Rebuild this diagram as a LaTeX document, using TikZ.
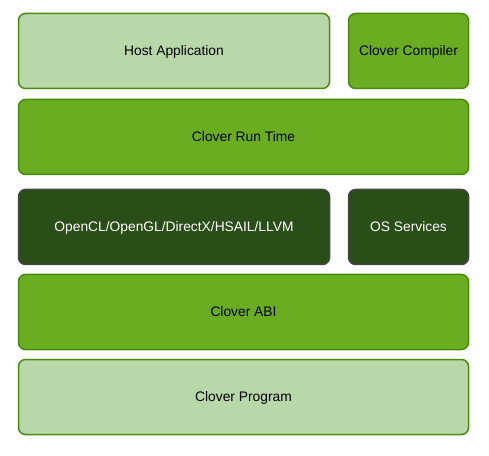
\documentclass[tikz,border=0pt]{standalone}
\usepackage{fontspec}
\setmainfont{Liberation Sans}
\definecolor{lightfill}{HTML}{B8D8AA}
\definecolor{midfill}{HTML}{6AAD21}
\definecolor{darkfill}{HTML}{2A4E17}
\definecolor{greenborder}{HTML}{4A8A0C}
\definecolor{grayborder}{HTML}{454545}
\tikzset{
  layer/.style={rounded corners=7pt, line width=1.5pt, inner sep=0pt,
    font=\fontsize{13.8}{16}\selectfont, text height=9.9pt, text depth=0pt, anchor=center},
  lightbox/.style={layer, draw=greenborder, fill=lightfill, text=black},
  midbox/.style={layer, draw=greenborder, fill=midfill, text=black},
  darkbox/.style={layer, draw=grayborder, fill=darkfill, text=white},
}
\begin{document}
\begin{tikzpicture}[x=1pt,y=1pt]
\useasboundingbox (0,0) rectangle (489,455);
\node[lightbox, minimum width=311pt, minimum height=75pt] (host) at ({(18.75+329.25)/2},{455-51}) {Host Application};
\node[midbox, minimum width=120pt, minimum height=75pt] (compiler) at ({(348.75+468.25)/2},{455-51}) {Clover Compiler};
\node[midbox, minimum width=450pt, minimum height=75pt] (runtime) at ({(18.75+468.25)/2},{455-137}) {Clover Run Time};
\node[darkbox, minimum width=311pt, minimum height=75pt] (opencl) at ({(18.75+329.25)/2},{455-227}) {OpenCL/OpenGL/DirectX/HSAIL/LLVM};
\node[darkbox, minimum width=120pt, minimum height=75pt] (os) at ({(348.75+468.25)/2},{455-227}) {OS Services};
\node[midbox, minimum width=450pt, minimum height=75pt] (abi) at ({(18.75+468.25)/2},{455-312}) {Clover ABI};
\node[lightbox, minimum width=450pt, minimum height=75pt] (program) at ({(18.75+468.25)/2},{455-397}) {Clover Program};
\end{tikzpicture}
\end{document}
